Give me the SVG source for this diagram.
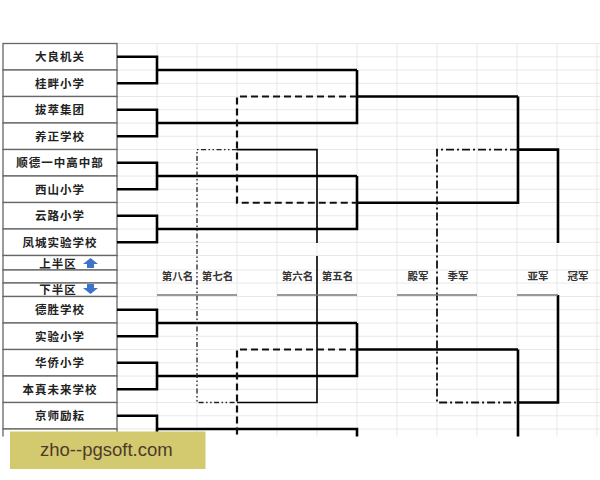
<svg xmlns="http://www.w3.org/2000/svg" width="600" height="480" viewBox="0 0 600 480">
<defs>
<clipPath id="clip"><rect x="0" y="0" width="600" height="436.5"/></clipPath>
<style>
.grid line{stroke:#e8e8e8;stroke-width:1}
.cell{fill:#fff;stroke:#666;stroke-width:1.3}
.team{font-family:"Noto Sans CJK SC","Noto Sans",sans-serif;font-size:11.5px;font-weight:bold;fill:#222;text-anchor:middle;letter-spacing:1px}
.lbl{font-family:"Noto Sans CJK SC","Noto Sans",sans-serif;font-size:10.5px;font-weight:bold;fill:#333;text-anchor:middle}
.main{fill:none;stroke:#000;stroke-width:2.6}
.thin{fill:none;stroke:#000;stroke-width:1.6}
.dash{fill:none;stroke:#111;stroke-width:2.2;stroke-dasharray:7 4}
.dd{fill:none;stroke:#111;stroke-width:1.8;stroke-dasharray:8 3 2 3}
.ddd{fill:none;stroke:#222;stroke-width:1.3;stroke-dasharray:5 2.5 1.5 2.5 1.5 2.5}
.under{stroke:#777;stroke-width:1.5}
.arrow{fill:#3d74c9}
</style>
</defs>
<rect width="600" height="480" fill="#fff"/>
<g clip-path="url(#clip)">
<g class="grid">
<line x1="157" y1="43.5" x2="157" y2="437"/><line x1="197" y1="43.5" x2="197" y2="437"/><line x1="237" y1="43.5" x2="237" y2="437"/><line x1="277" y1="43.5" x2="277" y2="437"/><line x1="317" y1="43.5" x2="317" y2="437"/><line x1="357" y1="43.5" x2="357" y2="437"/><line x1="397" y1="43.5" x2="397" y2="437"/><line x1="437" y1="43.5" x2="437" y2="437"/><line x1="477" y1="43.5" x2="477" y2="437"/><line x1="517" y1="43.5" x2="517" y2="437"/><line x1="557" y1="43.5" x2="557" y2="437"/><line x1="597" y1="43.5" x2="597" y2="437"/>
<line x1="117" y1="43.5" x2="600" y2="43.5"/><line x1="117" y1="56.75" x2="600" y2="56.75"/><line x1="117" y1="70" x2="600" y2="70"/><line x1="117" y1="83.25" x2="600" y2="83.25"/><line x1="117" y1="96.5" x2="600" y2="96.5"/><line x1="117" y1="109.75" x2="600" y2="109.75"/><line x1="117" y1="123" x2="600" y2="123"/><line x1="117" y1="136.25" x2="600" y2="136.25"/><line x1="117" y1="149.5" x2="600" y2="149.5"/><line x1="117" y1="162.75" x2="600" y2="162.75"/><line x1="117" y1="176" x2="600" y2="176"/><line x1="117" y1="189.25" x2="600" y2="189.25"/><line x1="117" y1="202.5" x2="600" y2="202.5"/><line x1="117" y1="215.75" x2="600" y2="215.75"/><line x1="117" y1="229" x2="600" y2="229"/><line x1="117" y1="242.25" x2="600" y2="242.25"/><line x1="117" y1="255.5" x2="600" y2="255.5"/><line x1="117" y1="270" x2="600" y2="270"/><line x1="117" y1="283" x2="600" y2="283"/><line x1="117" y1="296.5" x2="600" y2="296.5"/><line x1="117" y1="309.75" x2="600" y2="309.75"/><line x1="117" y1="323" x2="600" y2="323"/><line x1="117" y1="336.25" x2="600" y2="336.25"/><line x1="117" y1="349.5" x2="600" y2="349.5"/><line x1="117" y1="362.75" x2="600" y2="362.75"/><line x1="117" y1="376" x2="600" y2="376"/><line x1="117" y1="389.25" x2="600" y2="389.25"/><line x1="117" y1="402.5" x2="600" y2="402.5"/><line x1="117" y1="415.75" x2="600" y2="415.75"/><line x1="117" y1="429" x2="600" y2="429"/>
</g>
<g id="t1"><rect class="cell" x="3" y="43.5" width="114" height="26.5"/><text class="team" x="60" y="61">大良机关</text></g>
<g id="t2"><rect class="cell" x="3" y="70" width="114" height="26.5"/><text class="team" x="60" y="87.5">桂畔小学</text></g>
<g id="t3"><rect class="cell" x="3" y="96.5" width="114" height="26.5"/><text class="team" x="60" y="114">拔萃集团</text></g>
<g id="t4"><rect class="cell" x="3" y="123" width="114" height="26.5"/><text class="team" x="60" y="140.5">养正学校</text></g>
<g id="t5"><rect class="cell" x="3" y="149.5" width="114" height="26.5"/><text class="team" x="60" y="167">顺德一中高中部</text></g>
<g id="t6"><rect class="cell" x="3" y="176" width="114" height="26.5"/><text class="team" x="60" y="193.5">西山小学</text></g>
<g id="t7"><rect class="cell" x="3" y="202.5" width="114" height="26.5"/><text class="team" x="60" y="220">云路小学</text></g>
<g id="t8"><rect class="cell" x="3" y="229" width="114" height="26.5"/><text class="team" x="60" y="246.5">凤城实验学校</text></g>
<g id="upper"><rect class="cell" x="3" y="255.5" width="114" height="14.5"/><text class="team" x="58" y="267.5">上半区</text><path class="arrow" d="M90.5,258 L98,264 L94,264 L94,268 L87,268 L87,264 L83,264 Z"/></g>
<g id="gap"><rect class="cell" x="3" y="270" width="114" height="13"/></g>
<g id="lower"><rect class="cell" x="3" y="283" width="114" height="13.5"/><text class="team" x="58" y="293.5">下半区</text><path class="arrow" d="M87,284 L94,284 L94,288 L98,288 L90.5,294 L83,288 L87,288 Z"/></g>
<g id="b1"><rect class="cell" x="3" y="296.5" width="114" height="26.5"/><text class="team" x="60" y="314">德胜学校</text></g>
<g id="b2"><rect class="cell" x="3" y="323" width="114" height="26.5"/><text class="team" x="60" y="340.5">实验小学</text></g>
<g id="b3"><rect class="cell" x="3" y="349.5" width="114" height="26.5"/><text class="team" x="60" y="367">华侨小学</text></g>
<g id="b4"><rect class="cell" x="3" y="376" width="114" height="26.5"/><text class="team" x="60" y="393.5">本真未来学校</text></g>
<g id="b5"><rect class="cell" x="3" y="402.5" width="114" height="26.5"/><text class="team" x="60" y="420">京师励耘</text></g>
<g id="b6"><rect class="cell" x="3" y="429" width="114" height="26.5"/></g>
<g id="connectors">
<path class="main" d="M117,56.75 H157 V83.25 H117 M157,70 H357 M117,109.75 H157 V136.25 H117 M157,123 H357 V70 M357,96.5 H518 M117,162.75 H157 V189.25 H117 M157,176 H357 M117,215.75 H157 V242.25 H117 M157,229 H357 V176 M357,202.75 H518 V96.5 M518,149.6 H558 V243"/>
<path class="main" d="M117,309.75 H157 V336.25 H117 M157,323 H357 M117,362.75 H157 V389.25 H117 M157,376 H357 V323 M357,349.5 H518 M117,415.75 H157 V442.25 H117 M157,429 H357 V460 M518,349.5 V460 M518,402.5 H558 V295"/>
<path class="dash" d="M357,96.5 H237 V202.75 H357 M357,349.5 H237 V460"/>
<path class="dd" d="M518,149.6 H437 V402.5 H518"/>
<path class="ddd" d="M237,149.6 H197 V402.5 H237"/>
<path class="thin" d="M237,149.6 H317 V243 M317,256 V402.5 H237"/>
</g>
<g id="labels">
<line class="under" x1="157" y1="295" x2="237" y2="295"/><line class="under" x1="277" y1="295" x2="357" y2="295"/><line class="under" x1="397" y1="295" x2="477" y2="295"/><line class="under" x1="517" y1="295" x2="558" y2="295"/>
<text class="lbl" x="177.5" y="280">第八名</text><text class="lbl" x="217.5" y="280">第七名</text><text class="lbl" x="297.5" y="280">第六名</text><text class="lbl" x="337.5" y="280">第五名</text><text class="lbl" x="418" y="280">殿军</text><text class="lbl" x="458" y="280">季军</text><text class="lbl" x="538" y="280">亚军</text><text class="lbl" x="578" y="280">冠军</text>
</g>
</g>
<g id="watermark"><rect x="10" y="431.5" width="195.5" height="37.5" fill="#d3c96f"/><text x="40" y="456" font-family="Liberation Sans, Arial, sans-serif" font-size="18.5" fill="#4d3b2c">zho--pgsoft.com</text></g>
</svg>
